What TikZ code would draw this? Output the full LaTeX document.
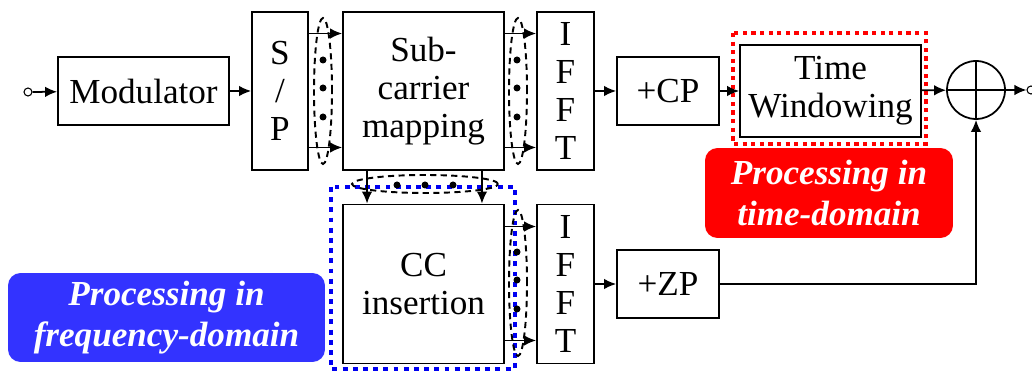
\documentclass[tikz,border=0pt]{standalone}
\usepackage{fontspec}
\setmainfont{Liberation Serif}
\usepackage{tikz}
\usetikzlibrary{arrows.meta,positioning,calc}
\definecolor{redlabel}{RGB}{255, 0, 0}
\definecolor{bluelabel}{RGB}{51, 51, 255}
\definecolor{bluedots}{RGB}{0, 0, 240}

\begin{document}
\begin{tikzpicture}[x=0.02cm, y=-0.02cm,
    blk/.style={draw, line width=1pt, fill=white, align=center, inner sep=0pt,
        font=\fontsize{20}{21.5}\selectfont},
    term/.style={draw, circle, line width=0.6pt, fill=white, inner sep=0pt, minimum size=0.16cm},
    tag/.style={rounded corners=0.25cm, align=center, inner sep=0pt, text=white,
        font=\fontsize{20}{23}\selectfont\bfseries\itshape},
    link/.style={-{Latex[length=2.4mm,width=2.1mm]}, line width=1pt},
    group/.style={line width=1.1pt, dash pattern=on 3.5pt off 2.5pt}]
    \useasboundingbox (0,0) rectangle (1032,371);

    % Highlight frames (behind the blocks)
    \draw[redlabel, line width=2.4pt, dash pattern=on 2.4pt off 2.5pt] (733,33) rectangle (926,144);
    \draw[bluedots, line width=2.8pt, dash pattern=on 2.8pt off 3pt] (331,187) rectangle (515,369);

    % Upper branch
    \node[term] (in) at (28,92) {};
    \node[blk, minimum width=3.42cm, minimum height=1.36cm] (mod) at (143.5,91) {Modulator};
    \node[blk, minimum width=1.12cm, minimum height=3.16cm] (sp) at (280,91) {S\\/\\P};
    \node[blk, minimum width=3.22cm, minimum height=3.16cm] (scm) at (423.5,91) {Sub-\\carrier\\mapping};
    \node[blk, minimum width=1.14cm, minimum height=3.16cm] (ifftA) at (565.5,91) {I\\F\\F\\T};
    \node[blk, minimum width=2.04cm, minimum height=1.36cm] (cp) at (668,91) {+CP};
    \node[blk, minimum width=3.62cm, minimum height=1.84cm] (tw) at (830.5,91) {Time\\Windowing};
    \node[draw, circle, line width=1pt, minimum size=1.16cm, inner sep=0pt] (sum) at (976,90) {};
    \node[term] (out) at (1031,90) {};

    % Lower branch
    \node[blk, minimum width=3.22cm, minimum height=3.18cm] (cc) at (423.5,284) {CC\\insertion};
    \node[blk, minimum width=1.14cm, minimum height=3.18cm] (ifftB) at (565.5,284) {I\\F\\F\\T};
    \node[blk, minimum width=2.04cm, minimum height=1.36cm] (zp) at (668,284) {+ZP};

    % Labels
    \node[tag, fill=redlabel, minimum width=4.96cm, minimum height=1.8cm] (tdlabel) at (829,193)
        {Processing in\\time-domain};
    \node[tag, fill=bluelabel, minimum width=6.34cm, minimum height=1.78cm] (fdlabel) at (166.5,317.5)
        {Processing in\\frequency-domain};

    % Serial connections
    \draw[link] (in) -- (mod);
    \draw[link] (mod) -- (sp);
    \draw[link] (ifftA) -- (cp);
    \draw[link] (cp) -- (tw);
    \draw[link] (tw) -- (sum);
    \draw[link] (sum) -- (out);
    \draw[link] (ifftB) -- (zp);
    \draw[link] (zp.east) -| (sum.south);
    \draw[line width=1pt] (sum.north) -- (sum.south) (sum.west) -- (sum.east);

    % Parallel connections
    \foreach \s in {1.15cm,-1.13cm}{
        \draw[link] ([yshift=\s]sp.east) -- ([yshift=\s]scm.west);
        \draw[link] ([yshift=\s]scm.east) -- ([yshift=\s]ifftA.west);
        \draw[link] ([yshift=\s]cc.east) -- ([yshift=\s]ifftB.west);
    }
    \foreach \s in {-1.13cm,1.17cm}
        \draw[link] ([xshift=\s]scm.south) -- ([xshift=\s]cc.north);

    % Grouping ellipses with dots
    \draw[group] (323,91) ellipse [x radius=0.18cm, y radius=1.46cm];
    \draw[group] (518,91) ellipse [x radius=0.18cm, y radius=1.46cm];
    \draw[group] (518,283) ellipse [x radius=0.18cm, y radius=1.46cm];
    \draw[group] (425,184) ellipse [x radius=1.46cm, y radius=0.18cm];
    \foreach \d in {60,88,117}{
        \fill (323,\d) circle (0.07cm);
        \fill (517,\d) circle (0.07cm);
    }
    \foreach \d in {252,280,309}
        \fill (517,\d) circle (0.07cm);
    \foreach \d in {397,425,453}
        \fill (\d,185) circle (0.07cm);
\end{tikzpicture}
\end{document}
